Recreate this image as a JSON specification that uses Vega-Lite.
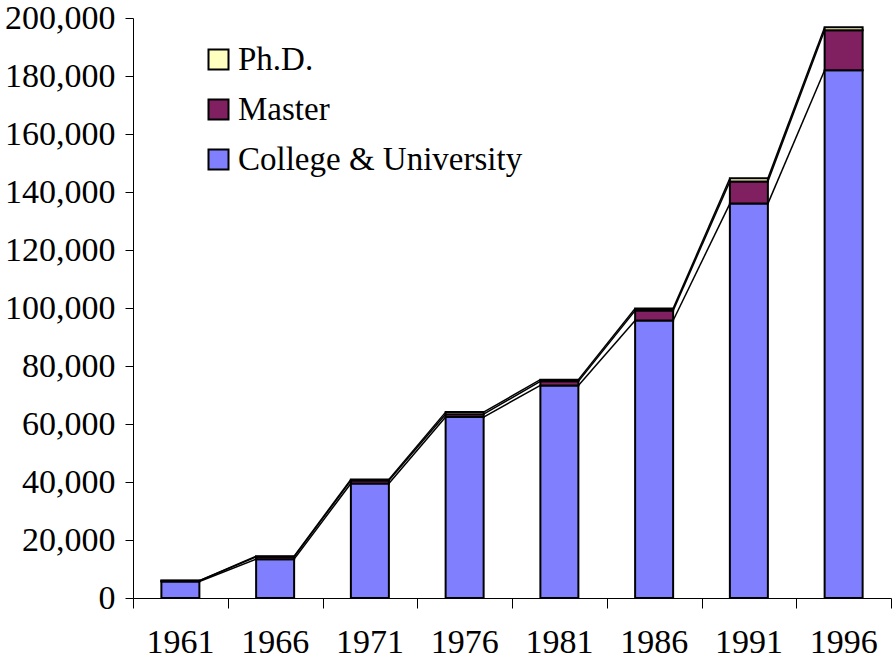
{
  "$schema": "https://vega.github.io/schema/vega-lite/v6.json",
  "autosize": "none",
  "width": 758,
  "height": 580,
  "padding": {"left": 133, "top": 18, "right": 2, "bottom": 63},
  "background": "white",
  "config": {
    "view": {"stroke": null},
    "font": "Liberation Serif",
    "axis": {"labelFont": "Liberation Serif", "labelColor": "black", "domainColor": "black", "tickColor": "black", "grid": false, "title": null},
    "legend": {"labelFont": "Liberation Serif"}
  },
  "data": {
    "values": [
      {"year": "1961", "degree": "College & University", "value": 5700},
      {"year": "1961", "degree": "Master", "value": 250},
      {"year": "1961", "degree": "Ph.D.", "value": 50},
      {"year": "1966", "degree": "College & University", "value": 13400},
      {"year": "1966", "degree": "Master", "value": 800},
      {"year": "1966", "degree": "Ph.D.", "value": 200},
      {"year": "1971", "degree": "College & University", "value": 39500},
      {"year": "1971", "degree": "Master", "value": 1000},
      {"year": "1971", "degree": "Ph.D.", "value": 400},
      {"year": "1976", "degree": "College & University", "value": 62400},
      {"year": "1976", "degree": "Master", "value": 1000},
      {"year": "1976", "degree": "Ph.D.", "value": 700},
      {"year": "1981", "degree": "College & University", "value": 73300},
      {"year": "1981", "degree": "Master", "value": 1400},
      {"year": "1981", "degree": "Ph.D.", "value": 600},
      {"year": "1986", "degree": "College & University", "value": 95700},
      {"year": "1986", "degree": "Master", "value": 3400},
      {"year": "1986", "degree": "Ph.D.", "value": 700},
      {"year": "1991", "degree": "College & University", "value": 136000},
      {"year": "1991", "degree": "Master", "value": 7600},
      {"year": "1991", "degree": "Ph.D.", "value": 1100},
      {"year": "1996", "degree": "College & University", "value": 182000},
      {"year": "1996", "degree": "Master", "value": 13800},
      {"year": "1996", "degree": "Ph.D.", "value": 1000}
    ]
  },
  "resolve": {"axis": {"x": "independent"}},
  "layer": [
    {
      "transform": [
        {"window": [{"op": "sum", "field": "value", "as": "cum"}], "groupby": ["year"], "sort": [{"field": "degree", "order": "ascending"}], "frame": [null, 0]},
        {"window": [{"op": "lead", "field": "year", "as": "nextYear"}, {"op": "lead", "field": "cum", "as": "nextCum"}], "groupby": ["degree"], "sort": [{"field": "year", "order": "ascending"}], "frame": [null, null]},
        {"filter": "datum.nextYear != null"}
      ],
      "mark": {"type": "rule", "color": "black", "strokeWidth": 1.5, "xOffset": 19, "x2Offset": -19},
      "encoding": {
        "x": {"field": "year", "type": "ordinal",
          "axis": {"orient": "bottom", "labelAngle": 0, "labelFontSize": 34, "labelFont": "Liberation Serif", "ticks": false, "domain": false, "bandPosition": 0.5, "labelPadding": 27}
        },
        "x2": {"field": "nextYear"},
        "y": {"field": "cum", "type": "quantitative",
          "scale": {"domain": [0, 200000], "nice": false},
          "axis": {"values": [0, 20000, 40000, 60000, 80000, 100000, 120000, 140000, 160000, 180000, 200000], "format": ",d", "labelFontSize": 34, "labelFont": "Liberation Serif", "tickSize": 8, "labelPadding": 10}
        },
        "y2": {"field": "nextCum"}
      }
    },
    {
      "mark": {"type": "bar", "width": 38, "stroke": "black", "strokeWidth": 2},
      "encoding": {
        "x": {
          "field": "year", "type": "ordinal",
          "scale": {"paddingInner": 0, "paddingOuter": 0},
          "axis": {"orient": "bottom", "labels": false, "tickSize": 10, "tickBand": "extent", "domainWidth": 1}
        },
        "y": {
          "field": "value", "type": "quantitative", "aggregate": "sum", "stack": "zero",
          "scale": {"domain": [0, 200000], "nice": false},
          "axis": {"values": [0, 20000, 40000, 60000, 80000, 100000, 120000, 140000, 160000, 180000, 200000], "format": ",d", "labelFontSize": 34, "labelFont": "Liberation Serif", "tickSize": 8, "labelPadding": 10}
        },
        "color": {
          "field": "degree", "type": "nominal",
          "scale": {"domain": ["Ph.D.", "Master", "College & University"], "range": ["#FFFFC0", "#802060", "#8080FF"]},
          "legend": {
            "orient": "none", "legendX": 69, "legendY": 25, "title": null,
            "symbolType": "square", "symbolSize": 400, "symbolStrokeColor": "black", "symbolStrokeWidth": 2, "symbolOpacity": 1,
            "labelFontSize": 33, "labelFont": "Liberation Serif", "labelColor": "black", "labelLimit": 500, "labelOffset": 3, "rowPadding": 16, "padding": 0
          }
        },
        "order": {"field": "degree", "sort": "ascending"}
      }
    }
  ]
}
